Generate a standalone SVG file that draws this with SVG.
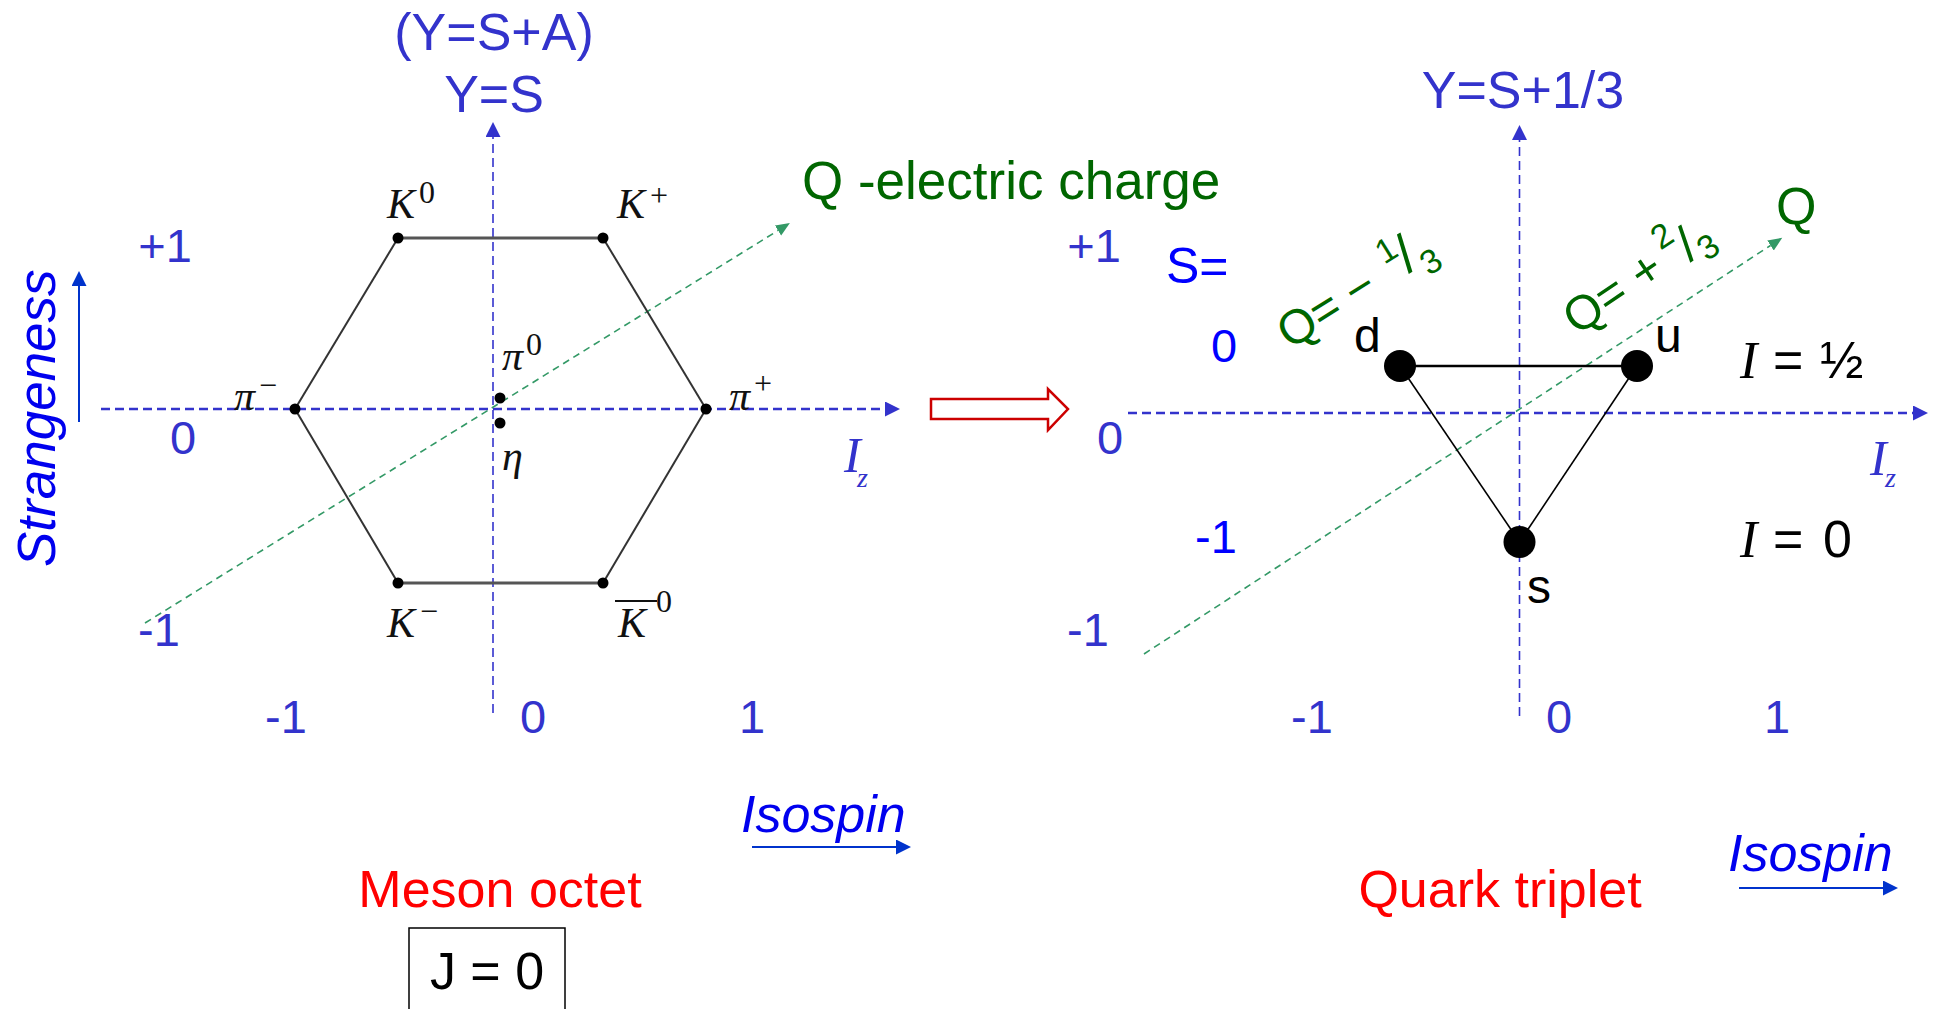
<svg xmlns="http://www.w3.org/2000/svg" width="1937" height="1009" viewBox="0 0 1937 1009">
<style>
.sans{font-family:"Liberation Sans",Arial,Helvetica,sans-serif}
.serif{font-family:"Liberation Serif","Times New Roman",serif}
.axis{fill:#3333cc}
.bright{fill:#0000ff}
.tick{font-size:47px;text-anchor:middle}
.big{font-size:52px}
.it{font-style:italic}
.hex{font-family:"Liberation Serif","Times New Roman",serif;font-style:italic;font-size:42px;fill:#111}
.sup{font-family:"Liberation Serif","Times New Roman",serif;font-style:normal;font-size:32px;fill:#111}
.green{fill:#006600}
.red{fill:#ff0000}
.dash-h{stroke:#3333cc;stroke-width:2.5;stroke-dasharray:9 5;fill:none}
.dash-v{stroke:#3333cc;stroke-width:1.6;stroke-dasharray:9 5;fill:none}
.qline{stroke:#339966;stroke-width:1.6;stroke-dasharray:7 5;fill:none}
.solid-blue{stroke:#0033cc;stroke-width:2;fill:none}
.edge{stroke:#333;stroke-width:2;fill:none}
.edge2{stroke:#555;stroke-width:3;fill:none}
.tri{stroke:#000;stroke-width:1.6;fill:none}
.tri2{stroke:#000;stroke-width:2.5;fill:none}
</style>
<defs>
<marker id="ab" markerUnits="userSpaceOnUse" markerWidth="16" markerHeight="16" refX="0" refY="7.5" orient="auto"><path d="M0,0 L15,7.5 L0,15 z" fill="#3333cc"/></marker>
<marker id="ag" markerUnits="userSpaceOnUse" markerWidth="15" markerHeight="14" refX="0" refY="6" orient="auto"><path d="M0,0 L14,6 L0,12 z" fill="#339966"/></marker>
<marker id="as" markerUnits="userSpaceOnUse" markerWidth="16" markerHeight="16" refX="0" refY="7.5" orient="auto"><path d="M0,0 L15,7.5 L0,15 z" fill="#0033cc"/></marker>
</defs>

<g id="connectors">
  <!-- left axes -->
  <line class="dash-h" x1="101" y1="409" x2="885" y2="409" marker-end="url(#ab)"/>
  <line class="dash-v" x1="493" y1="713" x2="493" y2="137" marker-end="url(#ab)"/>
  <line class="qline" x1="145" y1="623" x2="778" y2="230.5" marker-end="url(#ag)"/>
  <!-- hexagon -->
  <line class="edge2" x1="398" y1="238" x2="603" y2="238"/>
  <line class="edge" x1="603" y1="238" x2="706" y2="409"/>
  <line class="edge" x1="706" y1="409" x2="603" y2="583"/>
  <line class="edge2" x1="603" y1="583" x2="398" y2="583"/>
  <line class="edge" x1="398" y1="583" x2="295" y2="409"/>
  <line class="edge" x1="295" y1="409" x2="398" y2="238"/>
  <!-- right axes -->
  <line class="dash-h" x1="1128" y1="413" x2="1913" y2="413" marker-end="url(#ab)"/>
  <line class="dash-v" x1="1519.5" y1="716" x2="1519.5" y2="140" marker-end="url(#ab)"/>
  <line class="qline" x1="1144" y1="654" x2="1770.5" y2="245.5" marker-end="url(#ag)"/>
  <!-- triangle -->
  <line class="tri2" x1="1400" y1="366" x2="1637" y2="366"/>
  <line class="tri" x1="1400" y1="366" x2="1519.5" y2="542"/>
  <line class="tri" x1="1637" y1="366" x2="1519.5" y2="542"/>
  <!-- direction arrows -->
  <line class="solid-blue" x1="79" y1="422" x2="79" y2="286" marker-end="url(#as)"/>
  <line class="solid-blue" x1="752" y1="847" x2="896" y2="847" marker-end="url(#as)"/>
  <line class="solid-blue" x1="1739" y1="888" x2="1883" y2="888" marker-end="url(#as)"/>
  <!-- hollow red arrow -->
  <polygon points="931,399 1048,399 1048,389 1068,409 1048,430 1048,419 931,419" fill="#fff" stroke="#cc0000" stroke-width="2.5"/>
</g>

<!-- left diagram nodes -->
<g id="K0"><circle cx="398" cy="238" r="5.5"/><text class="hex" x="387" y="218">K</text><text class="sup" x="419" y="203">0</text></g>
<g id="Kplus"><circle cx="603" cy="238" r="5.5"/><text class="hex" x="617" y="218">K</text><text class="sup" x="650" y="206" font-size="36">+</text></g>
<g id="piminus"><circle cx="295" cy="409" r="5.5"/><text class="hex" x="234" y="410">π</text><text class="sup" x="259" y="396" font-size="34">−</text></g>
<g id="piplus"><circle cx="706" cy="409" r="5.5"/><text class="hex" x="729" y="410">π</text><text class="sup" x="754" y="394">+</text></g>
<g id="pi0"><circle cx="500" cy="398" r="5.5"/><text class="hex" x="502" y="370">π</text><text class="sup" x="526" y="355">0</text></g>
<g id="eta"><circle cx="500" cy="423" r="5.5"/><text class="hex" x="502" y="470">η</text></g>
<g id="Kminus"><circle cx="398" cy="583" r="5.5"/><text class="hex" x="387" y="637">K</text><text class="sup" x="420" y="622" font-size="36">−</text></g>
<g id="K0bar"><circle cx="603" cy="583" r="5.5"/><line x1="615" y1="601" x2="657" y2="601" stroke="#111" stroke-width="2"/><text class="hex" x="618" y="637">K</text><text class="sup" x="656" y="612">0</text></g>

<!-- left labels -->
<g id="left-labels">
  <text class="sans axis big" x="494" y="50" text-anchor="middle">(Y=S+A)</text>
  <text class="sans axis big" x="494" y="112" text-anchor="middle">Y=S</text>
  <text class="sans green" x="802" y="199" font-size="53">Q -electric charge</text>
  <text class="sans axis tick" x="165" y="262">+1</text>
  <text class="sans axis tick" x="183" y="454">0</text>
  <text class="sans axis tick" x="159" y="646">-1</text>
  <text class="sans axis tick" x="286" y="733">-1</text>
  <text class="sans axis tick" x="533" y="733">0</text>
  <text class="sans axis tick" x="752" y="733">1</text>
  <text class="serif axis it" x="844" y="472" font-size="50">I</text>
  <text class="serif axis it" x="857" y="487" font-size="28">z</text>
  <text class="sans it" x="0" y="0" font-size="53" fill="#0000ee" transform="translate(55,567) rotate(-90)">Strangeness</text>
  <text class="sans it big" x="741" y="832" fill="#0000ee">Isospin</text>
  <text class="sans red big" x="500" y="907" text-anchor="middle">Meson octet</text>
</g>
<g id="J0">
  <rect x="409" y="928" width="156" height="95" fill="none" stroke="#000" stroke-width="1.5"/>
  <text class="sans big" x="487" y="989" text-anchor="middle" fill="#000">J = 0</text>
</g>

<!-- right diagram nodes -->
<g id="d"><circle cx="1400" cy="366" r="16"/><text class="sans" x="1354" y="352" font-size="48">d</text></g>
<g id="u"><circle cx="1637" cy="366" r="16"/><text class="sans" x="1655" y="352" font-size="48">u</text></g>
<g id="s"><circle cx="1519.5" cy="542" r="16"/><text class="sans" x="1527" y="603" font-size="48">s</text></g>

<!-- right labels -->
<g id="right-labels">
  <text class="sans axis big" x="1523" y="108" text-anchor="middle">Y=S+1/3</text>
  <text class="sans green big" x="1776" y="224">Q</text>
  <text class="sans axis tick" x="1094" y="262">+1</text>
  <text class="sans axis tick" x="1110" y="454">0</text>
  <text class="sans axis tick" x="1088" y="646">-1</text>
  <text class="sans bright" x="1166" y="283" font-size="50">S=</text>
  <text class="sans bright tick" x="1224" y="362">0</text>
  <text class="sans bright tick" x="1216" y="553">-1</text>
  <text class="sans axis tick" x="1312" y="733">-1</text>
  <text class="sans axis tick" x="1559" y="733">0</text>
  <text class="sans axis tick" x="1777" y="733">1</text>
  <text class="serif axis it" x="1870" y="475" font-size="50">I</text>
  <text class="serif axis it" x="1885" y="487" font-size="28">z</text>
  <text class="serif it" x="1740" y="378" font-size="52" fill="#000">I</text>
  <text class="sans" x="1773" y="378" font-size="52" fill="#000">=</text>
  <text class="sans" x="1820" y="378" font-size="52" fill="#000">½</text>
  <text class="serif it" x="1740" y="557" font-size="52" fill="#000">I</text>
  <text class="sans" x="1773" y="557" font-size="52" fill="#000">=</text>
  <text class="sans" x="1823" y="557" font-size="52" fill="#000">0</text>
  <text class="sans green" font-size="48" transform="translate(1290,350) rotate(-32)"><tspan x="0" y="0">Q=</tspan><tspan x="78" y="0">−</tspan><tspan x="125" y="-22" font-size="34">1</tspan><tspan x="141" y="-2" font-size="54">/</tspan><tspan x="157" y="11" font-size="34">3</tspan></text>
  <text class="sans green" font-size="48" transform="translate(1577,336) rotate(-34)"><tspan x="0" y="0">Q=</tspan><tspan x="80" y="0">+</tspan><tspan x="117" y="-24" font-size="34">2</tspan><tspan x="135" y="2" font-size="50">/</tspan><tspan x="149" y="11" font-size="34">3</tspan></text>
  <text class="sans it big" x="1728" y="871" fill="#0000ee">Isospin</text>
  <text class="sans red big" x="1500" y="907" text-anchor="middle">Quark triplet</text>
</g>
</svg>
